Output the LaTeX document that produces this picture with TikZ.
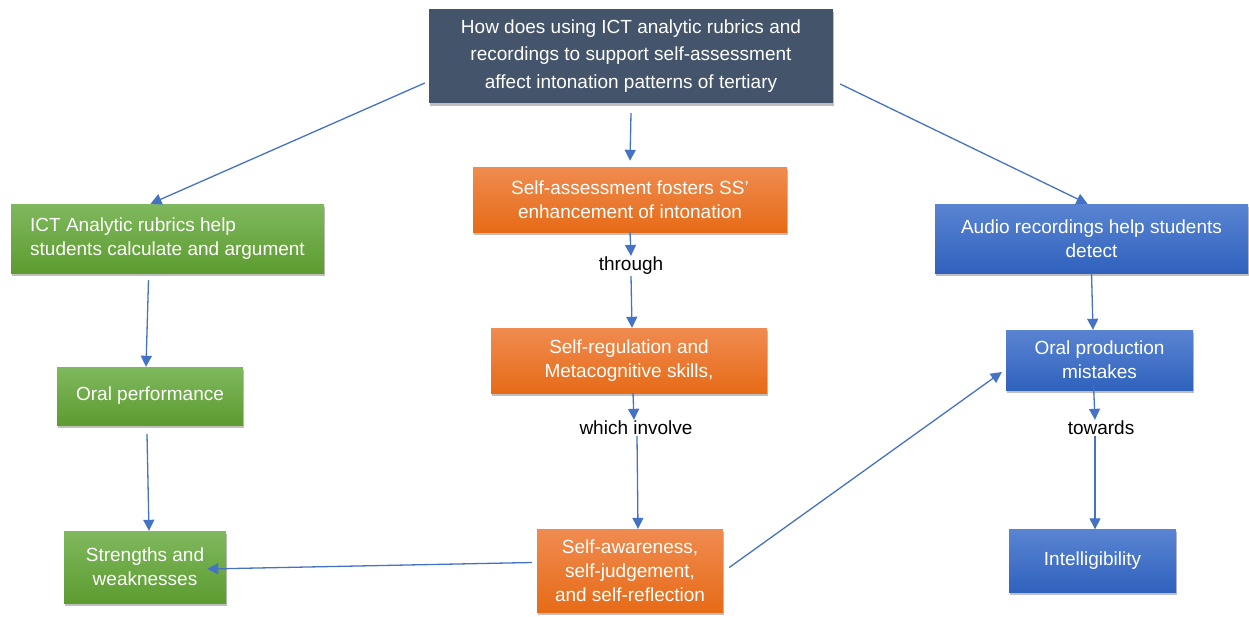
\documentclass[tikz,border=0pt]{standalone}
\usepackage{fontspec}
\setmainfont{Liberation Sans}
\usetikzlibrary{arrows.meta,shadows}
\definecolor{slate}{HTML}{44546A}
\definecolor{greentop}{HTML}{7FB85E}
\definecolor{greenbot}{HTML}{5C9C30}
\definecolor{orangetop}{HTML}{F08B50}
\definecolor{orangebot}{HTML}{E66B17}
\definecolor{bluetop}{HTML}{5A84D2}
\definecolor{bluebot}{HTML}{2F62BD}
\definecolor{linkblue}{HTML}{4472C4}
\tikzstyle{box} = [inner sep=4pt,align=center,text=white,font=\fontsize{19}{24}\selectfont,drop shadow={shadow xshift=1pt,shadow yshift=-2.5pt,opacity=0.25,fill=black}]
\tikzstyle{question} = [box,fill=slate,font=\fontsize{19}{27.5}\selectfont]
\tikzstyle{greenbox} = [box,top color=greentop,bottom color=greenbot]
\tikzstyle{orangebox} = [box,top color=orangetop,bottom color=orangebot]
\tikzstyle{bluebox} = [box,top color=bluetop,bottom color=bluebot]
\tikzstyle{linktext} = [inner sep=1pt,font=\fontsize{19}{24}\selectfont]
\tikzstyle{link} = [draw=linkblue,line width=1.3pt,->]

\begin{document}
\begin{tikzpicture}[x=1pt,y=1pt,>={Triangle[length=11pt,width=11pt]}]
\useasboundingbox (0,0) rectangle (1249,-616);
%%% Research question
\node[question,minimum width=404,minimum height=94] (quest) at (631,-56)
    {How does using ICT analytic rubrics and\\recordings to support self-assessment\\affect intonation patterns of tertiary};

%%% Left column
\node[greenbox,minimum width=313,minimum height=69,align=left] (rubrics) at (167.5,-238.5)
    {ICT Analytic rubrics help\\students calculate and argument};
\node[greenbox,minimum width=186,minimum height=58] (oral) at (150,-396) {Oral performance};
\node[greenbox,minimum width=162,minimum height=72] (strengths) at (145,-567) {Strengths and\\weaknesses};

%%% Middle column
\node[orangebox,minimum width=314,minimum height=65] (fosters) at (630,-199.5)
    {Self-assessment fosters SS'\\enhancement of intonation};
\node[orangebox,minimum width=276,minimum height=65] (regulation) at (629,-360.5)
    {Self-regulation and\\Metacognitive skills,};
\node[orangebox,minimum width=186,minimum height=83] (awareness) at (630,-570.5)
    {Self-awareness,\\self-judgement,\\and self-reflection};

%%% Right column
\node[bluebox,minimum width=313,minimum height=69] (audio) at (1091.5,-238.5)
    {Audio recordings help students\\detect};
\node[bluebox,minimum width=187,minimum height=60] (mistakes) at (1099.5,-360) {Oral production\\mistakes};
\node[bluebox,minimum width=167,minimum height=63] (intel) at (1092.5,-561) {Intelligibility};

% Link words
\node[linktext] (through) at (631,-266) {through};
\node[linktext] (involve) at (636,-428) {which involve};
\node[linktext] (towards) at (1101,-428) {towards};

% Arrows from the question
\draw[link] ([xshift=-4pt,yshift=-27pt]quest.west) -- ([xshift=-17pt]rubrics.north);
\draw[link] ([yshift=-10pt]quest.south) -- ([yshift=6pt]fosters.north);
\draw[link] ([xshift=7pt,yshift=-28pt]quest.east) -- ([xshift=-4pt]audio.north);

% Left column
\draw[link] ([xshift=-19pt,yshift=-7pt]rubrics.south) -- ([xshift=-4pt]oral.north);
\draw[link] ([xshift=-3pt,yshift=-9pt]oral.south) -- ([xshift=4pt]strengths.north);

% Middle column
\draw[link] (fosters.south) -- (through.north);
\draw[link] (through.south) -- ([xshift=3pt]regulation.north);
\draw[link] ([xshift=4pt]regulation.south) -- ([xshift=-2pt]involve.north);
\draw[link] ([xshift=1pt]involve.south) -- ([xshift=8pt]awareness.north);
\draw[link] ([xshift=-5pt,yshift=8pt]awareness.west) -- ([xshift=-19pt,yshift=-2pt]strengths.east);
\draw[link] ([xshift=6pt,yshift=3pt]awareness.east) -- ([xshift=-4pt,yshift=-12pt]mistakes.west);

% Right column
\draw[link] (audio.south) -- ([xshift=-6.5pt]mistakes.north);
\draw[link] ([xshift=-6pt,yshift=5pt]mistakes.south) -- ([xshift=-6pt]towards.north);
\draw[link] ([xshift=-6pt]towards.south) -- ([xshift=2.5pt]intel.north);
\end{tikzpicture}
\end{document}
